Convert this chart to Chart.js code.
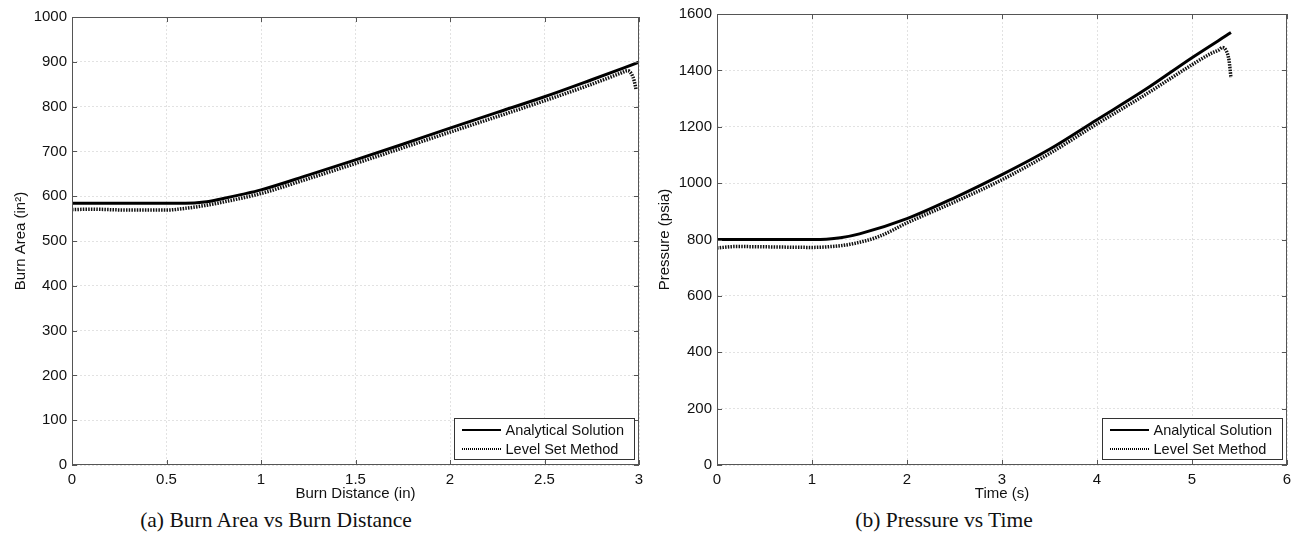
<!DOCTYPE html>
<html>
<head>
<meta charset="utf-8">
<script src="https://cdn.jsdelivr.net/npm/chart.js@4"></script>
<style>
  body { margin: 0; background: #fff; }
  #wrap { position: relative; width: 1301px; height: 546px; overflow: hidden; }
  canvas { position: absolute; top: 0; }
  .cap { position: absolute; top: 508px; font-family: "Liberation Serif", "DejaVu Serif", serif; font-size: 21.5px; color: #111; white-space: nowrap; transform: translateX(-50%); }
</style>
</head>
<body>
<div id="wrap">
  <canvas id="AreaChart" width="650" height="506" style="left:0"></canvas>
  <canvas id="PressureChart" width="651" height="506" style="left:650px"></canvas>
  <div class="cap" style="left:276px">(a) Burn Area vs Burn Distance</div>
  <div class="cap" style="left:944px">(b) Pressure vs Time</div>
</div>
<script>
// burn area vs burn distance
const burnDistA = [0, 0.3, 0.6, 0.7, 0.8, 0.9, 1.0, 1.25, 1.5, 1.75, 2.0, 2.25, 2.5, 2.75, 3.0];
const burnAreaA = [584, 584, 584, 587, 595, 604, 614, 647, 681, 716, 752, 787, 822, 860, 899];
const burnDistLS = [0, 0.1, 0.3, 0.5, 0.6, 0.7, 0.8, 1.0, 1.25, 1.5, 2.0, 2.5, 2.75, 2.9, 2.94, 2.96, 2.975, 2.985];
const burnAreaLS = [570, 571, 569, 569, 573, 579, 587, 606, 639, 673, 743, 813, 850, 874, 880, 873, 857, 837];

// pressure vs time
const timeA = [0, 0.5, 1.0, 1.15, 1.3, 1.5, 2.0, 2.5, 3.0, 3.5, 4.0, 4.5, 5.0, 5.41];
const pressA = [800, 800, 800, 801, 806, 820, 874, 948, 1030, 1120, 1225, 1330, 1445, 1534];
const timeLS = [0, 0.2, 0.5, 1.0, 1.2, 1.4, 1.7, 2.0, 2.5, 3.0, 3.5, 4.0, 4.5, 5.0, 5.2, 5.28, 5.32, 5.36, 5.39, 5.41];
const pressLS = [770, 775, 774, 772, 775, 783, 810, 859, 933, 1012, 1105, 1210, 1312, 1420, 1460, 1472, 1481, 1470, 1435, 1374];

const legendLabels = ['Analytical Solution', 'Level Set Method'];

Chart.defaults.font.family = '"Liberation Sans", Arial, sans-serif';
Chart.defaults.color = '#111';

function pts(xs, ys) {
  return xs.map((x, i) => ({ x: x, y: ys[i] }));
}

// plain numbers like matlab: 0 0.5 1 1.5 ... and 1000 without comma
function plain(v) {
  return String(Math.round(v * 10) / 10);
}

// box round the plot, inward ticks on all four sides, legend bottom right
const framePlugin = {
  id: 'frame',
  afterDatasetsDraw(chart) {
    const c = chart.ctx;
    const a = chart.chartArea;
    const xs = chart.scales.x, ys = chart.scales.y;
    c.save();
    c.strokeStyle = '#555';
    c.lineWidth = 1;
    c.strokeRect(a.left + 0.5, a.top + 0.5, a.right - a.left - 1, a.bottom - a.top - 1);
    c.beginPath();
    xs.ticks.forEach(t => {
      const px = Math.round(xs.getPixelForValue(t.value)) + 0.5;
      c.moveTo(px, a.bottom); c.lineTo(px, a.bottom - 5);
      c.moveTo(px, a.top); c.lineTo(px, a.top + 5);
    });
    ys.ticks.forEach(t => {
      const py = Math.round(ys.getPixelForValue(t.value)) + 0.5;
      c.moveTo(a.left, py); c.lineTo(a.left + 5, py);
      c.moveTo(a.right, py); c.lineTo(a.right - 5, py);
    });
    c.stroke();

    // legend
    const w = 180, h = 41;
    const lx = Math.round(a.right - 5 - w) + 0.5, ly = Math.round(a.bottom - 6 - h) + 0.5;
    c.fillStyle = '#fff';
    c.fillRect(lx, ly, w, h);
    c.strokeStyle = '#333';
    c.strokeRect(lx, ly, w, h);
    c.font = '14.5px "Liberation Sans", Arial, sans-serif';
    c.textBaseline = 'middle';
    chart.data.datasets.forEach((ds, i) => {
      const y = Math.round(ly + 11 + i * 19);
      c.beginPath();
      c.strokeStyle = '#000';
      c.lineWidth = 2;
      c.setLineDash(i == 0 ? [] : [1, 1]);
      c.moveTo(Math.round(lx) + 7, y); c.lineTo(Math.round(lx) + 46, y);
      c.stroke();
      c.setLineDash([]);
      c.fillStyle = '#111';
      c.fillText(ds.label, lx + 51, y + 1);
    });
    c.restore();
  }
};

function makeChart(id, xa, ya, xl, yl, opt) {
  return new Chart(document.getElementById(id), {
    type: 'line',
    data: {
      datasets: [{
        label: legendLabels[0],
        data: pts(xa, ya),
        borderColor: '#000',
        borderWidth: 3,
        pointRadius: 0,
        cubicInterpolationMode: 'monotone',
        order: 2
      }, {
        label: legendLabels[1],
        data: pts(xl, yl),
        borderColor: '#111',
        borderWidth: 3.5,
        borderDash: [1.5, 1.2],
        pointRadius: 0,
        cubicInterpolationMode: 'monotone',
        order: 1
      }]
    },
    options: {
      responsive: false,
      animation: false,
      layout: { padding: { top: opt.top, right: opt.right, left: 0, bottom: 0 } },
      plugins: { legend: { display: false }, tooltip: { enabled: false } },
      scales: {
        x: {
          type: 'linear',
          min: 0, max: opt.xMax,
          afterFit: s => { s.height = 41; },
          grid: { color: '#e2e2e2', drawTicks: false },
          border: { display: false, dash: [2, 2] },
          ticks: { stepSize: opt.xStep, padding: 6, font: { size: 15 }, maxRotation: 0, callback: plain },
          title: { display: true, text: opt.xTitle, font: { size: 15 }, padding: { top: 0, bottom: 3 } }
        },
        y: {
          min: 0, max: opt.yMax,
          afterFit: s => { s.width = opt.yWidth; },
          grid: { color: '#e2e2e2', drawTicks: false },
          border: { display: false, dash: [2, 2] },
          ticks: { stepSize: opt.yStep, padding: 5, font: { size: 15 }, callback: plain },
          title: { display: true, text: opt.yTitle, font: { size: 15 }, padding: { top: opt.yTitlePad, bottom: 0 } }
        }
      }
    },
    plugins: [framePlugin]
  });
}

const AreaChart = makeChart('AreaChart', burnDistA, burnAreaA, burnDistLS, burnAreaLS, {
  top: 17, right: 11, yWidth: 72, yTitlePad: 12,
  xMax: 3, xStep: 0.5, yMax: 1000, yStep: 100,
  xTitle: 'Burn Distance (in)', yTitle: 'Burn Area (in²)'
});

const PressureChart = makeChart('PressureChart', timeA, pressA, timeLS, pressLS, {
  top: 14, right: 14, yWidth: 67, yTitlePad: 6,
  xMax: 6, xStep: 1, yMax: 1600, yStep: 200,
  xTitle: 'Time (s)', yTitle: 'Pressure (psia)'
});
</script>
</body>
</html>
